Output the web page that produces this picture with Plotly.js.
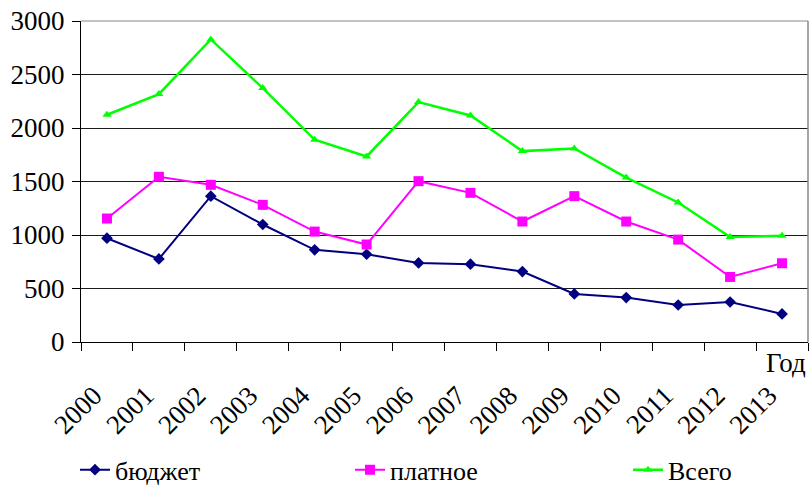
<!DOCTYPE html>
<html>
<head>
<meta charset="utf-8">
<script src="https://cdn.plot.ly/plotly-3.0.1.min.js"></script>
<style>html,body{margin:0;padding:0;background:#fff;}#chart{width:809px;height:485px;}</style>
</head>
<body>
<div id="chart"></div>
<script>
const years = ['2000','2001','2002','2003','2004','2005','2006','2007','2008','2009','2010','2011','2012','2013'];
const budget = [970, 776, 1363, 1098, 861, 820, 739, 727, 658, 449, 415, 346, 374, 262];
const paid = [1154, 1544, 1469, 1282, 1032, 911, 1503, 1394, 1126, 1363, 1126, 957, 608, 736];
const total = [2124, 2317, 2828, 2373, 1890, 1734, 2242, 2117, 1784, 1809, 1537, 1304, 982, 992];
const seriesNames = ['бюджет', 'платное', 'Всего'];
const yTicks = [0, 500, 1000, 1500, 2000, 2500, 3000];

const FONT = 'Liberation Serif';
const FS = 27;

const traces = [
  {x: years, y: budget, name: seriesNames[0], type: 'scatter', mode: 'lines+markers', legend: 'legend',
   line: {color: '#000080', width: 2}, marker: {symbol: 'diamond', size: 9, color: '#000080'}},
  {x: years, y: paid, name: seriesNames[1], type: 'scatter', mode: 'lines+markers', legend: 'legend2',
   line: {color: '#FF00FF', width: 2}, marker: {symbol: 'square', size: 10, color: '#FF00FF'}},
  {x: years, y: total, name: seriesNames[2], type: 'scatter', mode: 'lines+markers', legend: 'legend3',
   line: {color: '#00FF00', width: 2.5}, marker: {symbol: 'triangle-up', size: 8, color: '#00FF00'}}
];

function leg(xpx) {
  return {orientation: 'h', x: (xpx - 81) / 727, xanchor: 'left', y: -0.398, yanchor: 'middle',
    itemwidth: 30, font: {family: FONT, size: 26, color: '#000'}, bgcolor: 'rgba(0,0,0,0)'};
}

const layout = {
  width: 809, height: 485,
  margin: {l: 81, r: 1, t: 21, b: 143, pad: 0, autoexpand: false},
  paper_bgcolor: '#fff', plot_bgcolor: '#fff',
  font: {family: FONT, size: FS, color: '#000'},
  showlegend: true,
  legend: leg(75),
  legend2: leg(350),
  legend3: leg(628),
  xaxis: {type: 'category', categoryorder: 'array', categoryarray: years, automargin: false,
    tickson: 'boundaries', ticks: 'outside', ticklen: 8, tickcolor: '#000', tickwidth: 1,
    tickangle: -45, tickfont: {family: FONT, size: FS, color: '#000'},
    ticklabelstandoff: 26, ticklabelshift: -13,
    showline: true, linecolor: '#000', linewidth: 1, showgrid: false, zeroline: false,
    range: [-0.5, 13.5]},
  yaxis: {range: [0, 3000], tickvals: yTicks, ticks: 'outside', ticklen: 8, tickcolor: '#000', automargin: false,
    tickfont: {family: FONT, size: FS, color: '#000'}, ticklabelstandoff: 2,
    showline: true, linecolor: '#000', linewidth: 1,
    showgrid: true, gridcolor: '#1a1a1a', gridwidth: 1, zeroline: false},
  shapes: [
    {type: 'line', xref: 'paper', yref: 'paper', x0: 1, x1: 1, y0: 0, y1: 1, line: {color: '#888', width: 1.5}},
    {type: 'line', xref: 'paper', yref: 'paper', x0: 0, x1: 1, y0: 1, y1: 1, line: {color: '#888', width: 1}}
  ],
  annotations: [
    {text: 'Год', xref: 'paper', yref: 'paper', x: 1, y: -0.012, xanchor: 'right', yanchor: 'top',
     showarrow: false, font: {family: FONT, size: FS, color: '#000'}}
  ]
};

Plotly.newPlot('chart', traces, layout, {displayModeBar: false, staticPlot: true});
</script>
</body>
</html>
